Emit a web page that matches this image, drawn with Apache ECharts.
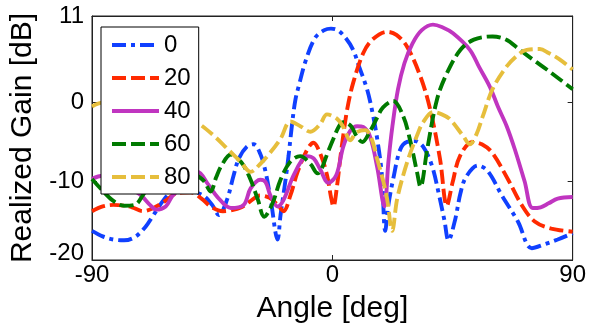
<!DOCTYPE html>
<html>
<head>
<meta charset="utf-8">
<script src="https://cdn.jsdelivr.net/npm/echarts@6/dist/echarts.min.js"></script>
<style>
html,body{margin:0;padding:0;background:#fff;}
#chart{width:589px;height:329px;}
</style>
</head>
<body>
<div id="chart"></div>
<script>
// Series names (steering angle)
const seriesNames = ['0', '20', '40', '60', '80'];
// Tick labels
const xTicks = [-90, 0, 90];
const yTicks = [-20, -10, 0, 11];

// [angle (deg), realized gain (dB)]
const gain0 = [[-90,-16.3],[-86,-17],[-82,-17.4],[-78,-17.5],[-74,-17.1],[-70,-15.8],[-67,-14.3],[-63,-12.3],[-60,-11.3],[-56,-11],[-52,-11.3],[-48,-11.9],[-45,-13],[-42.5,-14.3],[-39.5,-12.4],[-37,-9.3],[-35,-7.1],[-32,-5.6],[-29.5,-5.3],[-27,-6.5],[-25,-8.8],[-23,-12.5],[-20.5,-17.4],[-19.4,-14.3],[-17.6,-10],[-16.4,-6.8],[-15,-2.5],[-13.8,0.4],[-12.5,2.2],[-10,5.3],[-6.5,8.2],[-3,9.2],[-0.5,9.4],[2,9.2],[5,8.2],[7.8,6.7],[10,4.6],[13,1.7],[15,-1.2],[16.8,-4.6],[18.5,-9],[19.8,-16.3],[21,-13],[22.8,-9.7],[25.4,-6],[28,-5],[31,-4.9],[34,-5.6],[37.3,-8],[40,-11.8],[42,-15],[43.5,-17.5],[45.9,-15],[48,-11.5],[50,-9.5],[54.5,-8],[58.2,-8.7],[63.5,-11.8],[69.5,-15.1],[74.7,-18.5],[79.5,-18],[84.4,-17.4],[90,-16.6]];
const gain20 = [[-90,-13.8],[-86,-13.2],[-82,-13],[-78,-13.1],[-75,-13.3],[-71,-13.8],[-67,-13.4],[-63,-12.6],[-58,-11.5],[-53,-11.4],[-49,-12.2],[-45.6,-13.2],[-41,-13.8],[-38,-13.7],[-34,-13.3],[-31,-12.6],[-27,-11.8],[-23.5,-12.1],[-20.5,-13],[-18.3,-13.8],[-15.7,-11.8],[-13,-8.8],[-9.3,-5.9],[-7.1,-5.1],[-4.5,-6.5],[-2,-9.2],[-0.5,-12],[0.4,-13.2],[1.8,-10.5],[3,-7],[4,-4.4],[5.6,-0.8],[7.8,2.5],[11.6,6.3],[15,8],[20.5,9],[24,8.6],[28,7.1],[33,3.3],[36.6,-0.8],[40.3,-7.1],[42.9,-13.1],[45,-10.2],[47.8,-6.8],[52.6,-5],[56,-5.3],[59.7,-6.3],[65.7,-9.7],[70.9,-13],[75.8,-15.1],[82,-16],[90,-16.4]];
const gain40 = [[-90,-9.7],[-86,-9.3],[-82,-9.6],[-78,-10.3],[-74.5,-11.1],[-71.3,-11.9],[-68,-13.1],[-66,-13.6],[-62.4,-13.2],[-60,-11.9],[-57.9,-11.2],[-54,-9.4],[-50.4,-8.8],[-46.7,-10.3],[-43,-12],[-38,-13.4],[-33.2,-13],[-30.6,-10.9],[-27,-9.8],[-25,-10.1],[-23.2,-11.8],[-20.5,-13.2],[-18.3,-12.4],[-14.6,-9.3],[-10.8,-7],[-9.5,-6.8],[-7,-7.1],[-4.5,-8.5],[-1.5,-10.2],[1.5,-9.2],[4.1,-5.6],[6.7,-3.6],[9.3,-3],[11.6,-3.1],[14.2,-4.4],[16.8,-8.2],[19.5,-13.2],[21,-7.5],[22.5,-3],[24.6,1.7],[27,5],[30,7.5],[33.5,9.2],[37.7,9.9],[41,9.6],[45.2,8.8],[51.5,6.7],[55,4.5],[59,2],[62,-0.5],[65.3,-3],[68.3,-5.9],[72,-10],[75,-13.4],[78,-13.3],[81,-12.8],[84.4,-12.2],[90,-12]];
const gain60 = [[-90,-9.7],[-86,-11.2],[-82,-12.5],[-78,-13.1],[-74,-13],[-71,-11.8],[-67,-9.6],[-62,-8.2],[-57,-8],[-53,-8.6],[-50.4,-9.3],[-48,-10],[-45.6,-11.3],[-43.5,-9.5],[-41.5,-8],[-38,-6.6],[-35.5,-7.1],[-33.2,-8],[-30.6,-9.8],[-28,-12.2],[-25.5,-14.5],[-22.4,-12.8],[-19.4,-9.8],[-15.7,-7.5],[-12,-6.8],[-8.2,-7.8],[-5.5,-9],[-4,-8.4],[-2,-6.6],[0.4,-4.6],[2.5,-3],[4.1,-2.5],[7,-3],[9.3,-4.4],[11.2,-5],[14.2,-3.6],[16.8,-1.9],[19,-0.6],[22.8,0.2],[26.5,-1.7],[29,-4.6],[31.7,-8.8],[33,-10.7],[35.5,-6],[39.2,0.4],[43,3.8],[48,6.7],[53,8],[60,8.4],[65,8],[70.2,6.7],[75,5.5],[80.3,4.2],[85,3],[90,1.7]];
const gain80 = [[-90,-0.5],[-86,0],[-82,0],[-76,-0.3],[-70,-0.8],[-62,-1.4],[-55,-2],[-50.4,-2.6],[-44.4,-4.2],[-39.2,-5.9],[-34.4,-7.5],[-30.6,-8.8],[-27,-7.8],[-24.3,-6.8],[-19.4,-4.6],[-15.7,-2.4],[-12,-3],[-8.2,-3.7],[-4.5,-2.7],[-2,-1.5],[1.9,-2.1],[4.1,-3.1],[6.7,-4.8],[9,-3.8],[12.3,-3.5],[14.5,-4.4],[17,-7.4],[19,-9.9],[20.5,-12.2],[22.4,-16.3],[24.3,-12.2],[28,-7.6],[31.7,-4.2],[34,-2.5],[37.7,-1.2],[41,-1.5],[44,-2.1],[48.9,-4.2],[51.5,-5.3],[54,-4],[56.4,-1.7],[60,1.7],[65.3,4.6],[70,6.2],[72.8,6.7],[77.7,6.8],[81,6.3],[85.1,5.5],[90,4.2]];

const allGains = [gain0, gain20, gain40, gain60, gain80];
const colors = ['#1040FF', '#FF2A00', '#C035C0', '#007A00', '#E6BE3C'];
const dashes = [[14,5,4,5], [14,5], 'solid', [14,5], [14,5]];

const FONT = 'Liberation Sans, Arial, sans-serif';
const axisColor = '#222';

const chart = echarts.init(document.getElementById('chart'), null, {renderer: 'canvas'});

const series = seriesNames.map((name, i) => ({
  name: name,
  type: 'line',
  data: allGains[i],
  smooth: 0.35,
  symbol: 'none',
  showSymbol: false,
  clip: true,
  lineStyle: {color: colors[i], width: 3.9, type: dashes[i]},
  itemStyle: {color: colors[i]},
  z: 2 + i * 0.01
}));

chart.setOption({
  animation: false,
  backgroundColor: '#fff',
  grid: {left: 91, right: 16, top: 16, bottom: 67, show: true, borderColor: axisColor, borderWidth: 1, backgroundColor: 'transparent'},
  legend: {
    data: seriesNames,
    orient: 'vertical',
    left: 101,
    top: 27,
    padding: [6, 8, 5, 9],
    itemWidth: 47,
    itemHeight: 1,
    itemGap: 9,
    itemStyle: {opacity: 0},
    lineStyle: {width: 4},
    backgroundColor: '#fff',
    borderColor: '#000',
    borderWidth: 1,
    borderRadius: 0,
    textStyle: {fontFamily: FONT, fontSize: 24, color: '#000', lineHeight: 24},
    z: 10
  },
  xAxis: [{
    type: 'value',
    min: -90, max: 90, interval: 90,
    position: 'bottom',
    name: 'Angle [deg]',
    nameLocation: 'middle',
    nameGap: 34,
    nameTextStyle: {fontFamily: FONT, fontSize: 30, color: '#000'},
    axisLine: {show: true, onZero: false, lineStyle: {color: axisColor, width: 1}},
    axisTick: {show: true, inside: true, length: 5, lineStyle: {color: axisColor}},
    axisLabel: {fontFamily: FONT, fontSize: 24, color: '#000', margin: 3,
      customValues: xTicks, formatter: v => String(v)},
    splitLine: {show: false}
  }, {
    type: 'value',
    min: -90, max: 90, interval: 90,
    position: 'top',
    axisLine: {show: true, onZero: false, lineStyle: {color: axisColor, width: 1}},
    axisTick: {show: true, inside: true, length: 5, lineStyle: {color: axisColor}},
    axisLabel: {show: false},
    splitLine: {show: false}
  }],
  yAxis: [{
    type: 'value',
    min: -20, max: 11,
    position: 'left',
    name: 'Realized Gain [dB]',
    nameLocation: 'middle',
    nameGap: 54,
    nameTextStyle: {fontFamily: FONT, fontSize: 30, color: '#000'},
    axisLine: {show: true, onZero: false, lineStyle: {color: axisColor, width: 1}},
    axisTick: {show: true, inside: true, length: 5, customValues: yTicks, lineStyle: {color: axisColor}},
    axisLabel: {fontFamily: FONT, fontSize: 24, color: '#000', margin: 8,
      customValues: yTicks,
      formatter: v => v === -20 ? '{lo|-20}' : String(v),
      rich: {lo: {fontFamily: FONT, fontSize: 24, color: '#000', padding: [0, 0, 14, 0]}}},
    splitLine: {show: false}
  }, {
    type: 'value',
    min: -20, max: 11,
    position: 'right',
    axisLine: {show: true, onZero: false, lineStyle: {color: axisColor, width: 1}},
    axisTick: {show: true, inside: true, length: 5, customValues: yTicks, lineStyle: {color: axisColor}},
    axisLabel: {show: false},
    splitLine: {show: false}
  }],
  series: series
});
</script>
</body>
</html>
